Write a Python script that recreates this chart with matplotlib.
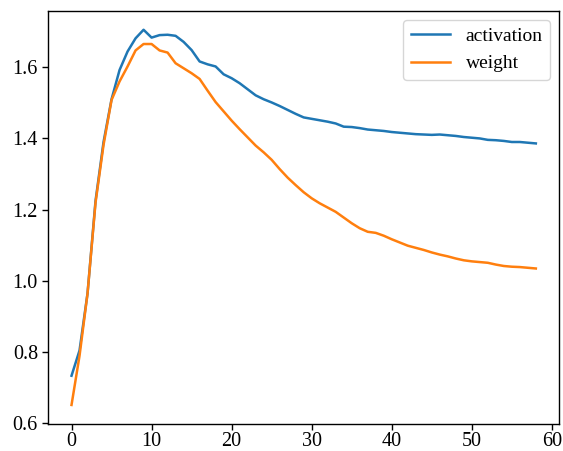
import matplotlib
matplotlib.use("Agg")
import matplotlib.pyplot as plt
import numpy as np

# -----------------------------
# Data
# -----------------------------
activation = [
    0.734, 0.805, 0.965, 1.225, 1.390, 1.510, 1.592, 1.644, 1.681, 1.705,
    1.683, 1.690, 1.691, 1.688, 1.671, 1.648, 1.616, 1.608, 1.602, 1.580,
    1.569, 1.555, 1.538, 1.521, 1.510, 1.501, 1.491, 1.480, 1.469, 1.459,
    1.455, 1.451, 1.447, 1.442, 1.433, 1.432, 1.429, 1.425, 1.423, 1.421,
    1.418, 1.416, 1.414, 1.412, 1.411, 1.410, 1.411, 1.409, 1.407, 1.404,
    1.402, 1.400, 1.396, 1.395, 1.393, 1.390, 1.390, 1.388, 1.386,
]
weight = [
    0.652, 0.790, 0.965, 1.220, 1.382, 1.508, 1.560, 1.602, 1.647, 1.665,
    1.665, 1.647, 1.641, 1.611, 1.597, 1.583, 1.567, 1.534, 1.502, 1.476,
    1.450, 1.426, 1.403, 1.380, 1.361, 1.340, 1.314, 1.290, 1.269, 1.249,
    1.232, 1.218, 1.206, 1.194, 1.178, 1.162, 1.148, 1.138, 1.135, 1.127,
    1.117, 1.108, 1.099, 1.093, 1.087, 1.080, 1.074, 1.069, 1.063, 1.058,
    1.055, 1.053, 1.051, 1.046, 1.042, 1.040, 1.039, 1.037, 1.035,
]
steps = np.arange(len(activation))

plt.rcParams.update({
    "font.family": ["Liberation Serif", "DejaVu Serif"],
    "font.size": 14.5,
    "xtick.labelsize": 14.5,
    "ytick.labelsize": 14.5,
    "legend.fontsize": 14,
    "axes.linewidth": 1.0,
    "xtick.major.size": 4,
    "ytick.major.size": 4,
    "xtick.major.width": 1.0,
    "ytick.major.width": 1.0,
    "xtick.major.pad": 2.0,
})

# -----------------------------
# Plot
# -----------------------------
fig = plt.figure(figsize=(5.63, 4.51), dpi=100)
ax = fig.add_axes([0.0858, 0.0605, 0.9072, 0.9151])

ax.plot(steps, activation, color="#1f77b4", linewidth=1.8, label="activation")
ax.plot(steps, weight, color="#ff7f0e", linewidth=1.8, label="weight")

ax.set_xticks([0, 10, 20, 30, 40, 50, 60])
ax.set_yticks([0.6, 0.8, 1.0, 1.2, 1.4, 1.6])
ax.legend(loc="upper right", borderaxespad=0.45)

fig.savefig("out.png", dpi=100)
